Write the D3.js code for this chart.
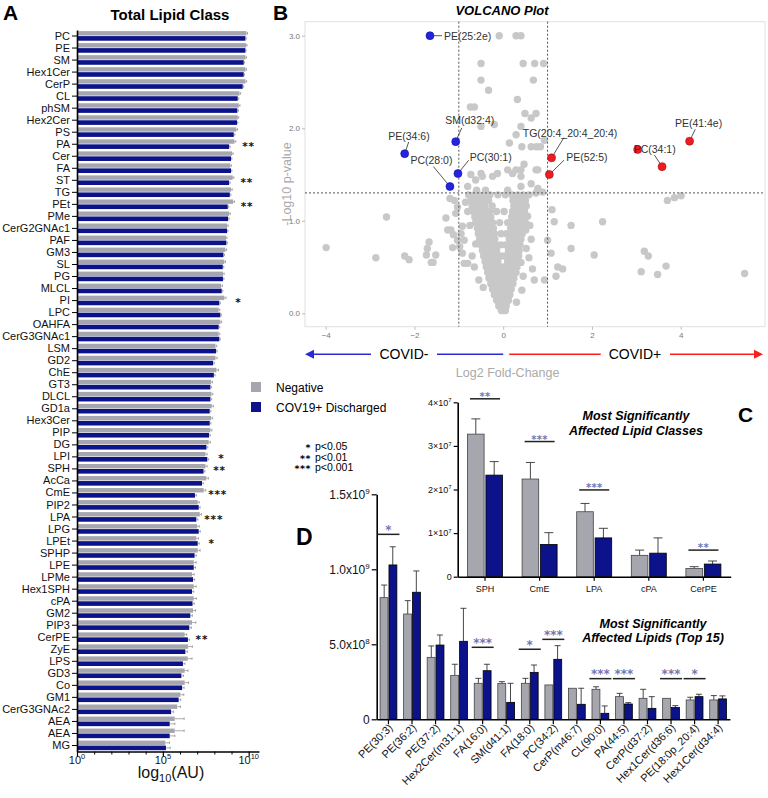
<!DOCTYPE html>
<html><head><meta charset="utf-8">
<script src="https://cdn.jsdelivr.net/npm/d3@7"></script>
<style>body{margin:0;background:#fff} svg{font-family:"Liberation Sans",Arial,Helvetica,sans-serif}</style>
</head><body><svg id="c" width="768" height="798"></svg>
<script>
// ================= DATA =================
// Panel A – total lipid class (log10 AU)
const classes = ["PC","PE","SM","Hex1Cer","CerP","CL","phSM","Hex2Cer","PS","PA","Cer","FA","ST","TG","PEt","PMe","CerG2GNAc1","PAF","GM3","SL","PG","MLCL","PI","LPC","OAHFA","CerG3GNAc1","LSM","GD2","ChE","GT3","DLCL","GD1a","Hex3Cer","PIP","DG","LPI","SPH","AcCa","CmE","PIP2","LPA","LPG","LPEt","SPHP","LPE","LPMe","Hex1SPH","cPA","GM2","PIP3","CerPE","ZyE","LPS","GD3","Co","GM1","CerG3GNAc2","AEA","AEA","MG"];
const logNeg = [9.87,9.85,9.81,9.81,9.81,9.46,9.42,9.36,9.28,9.17,9.03,8.93,9.07,8.97,9.09,8.86,8.74,8.68,8.64,8.58,8.50,8.39,8.58,8.25,8.35,8.25,8.06,8.06,8.12,7.81,7.83,7.85,7.81,7.77,7.67,7.48,7.48,7.53,7.38,7.03,7.15,7.00,6.95,7.03,6.80,6.70,6.80,6.80,6.76,6.70,6.27,6.47,6.45,6.27,6.27,6.02,5.83,5.69,5.69,5.14];
const logPos = [9.81,9.81,9.71,9.71,9.65,9.36,9.34,9.32,9.13,8.86,8.97,8.97,8.86,8.90,8.78,8.80,8.74,8.70,8.53,8.49,8.50,8.43,8.29,8.35,8.25,8.29,8.10,7.93,7.97,7.77,7.77,7.73,7.73,7.69,7.54,7.59,7.37,7.28,6.87,7.09,6.95,7.09,7.03,6.85,6.80,6.76,6.70,6.73,6.60,6.54,6.46,6.31,6.17,6.08,6.12,5.92,5.48,5.40,5.40,5.18];
const errNeg = [0.06,0.05,0.06,0.06,0.07,0.07,0.07,0.06,0.07,0.08,0.06,0.06,0.07,0.07,0.08,0.07,0.06,0.06,0.07,0.07,0.07,0.08,0.10,0.07,0.07,0.07,0.08,0.10,0.12,0.08,0.08,0.09,0.09,0.09,0.10,0.10,0.10,0.12,0.12,0.09,0.10,0.12,0.12,0.14,0.14,0.12,0.14,0.15,0.15,0.22,0.12,0.25,0.25,0.20,0.22,0.20,0.20,0.55,0.55,0.25];
const errPos = [0.05,0.04,0.05,0.05,0.05,0.06,0.06,0.05,0.06,0.06,0.05,0.05,0.06,0.06,0.06,0.06,0.05,0.06,0.06,0.06,0.06,0.06,0.06,0.06,0.06,0.06,0.06,0.07,0.07,0.06,0.07,0.07,0.07,0.07,0.08,0.08,0.08,0.08,0.08,0.08,0.09,0.09,0.09,0.10,0.10,0.09,0.10,0.10,0.12,0.12,0.10,0.12,0.12,0.12,0.12,0.12,0.15,0.30,0.30,0.25];
const sigAClass = ["PA","ST","PEt","PI","LPI","SPH","CmE","LPA","LPEt","CerPE"];
const sigAMark  = ["**","**","**","*","*","**","***","***","*","**"];
const tickA = [1, 1e5, 1e10];
const tickAExp = ["0","5","10"];

// Panel B – volcano (log2 FC, -log10 p)
const grayPts = [
[-3.99,0.71],[-2.87,0.60],[-2.63,1.04],[-2.22,0.62],[-2.12,0.58],[-1.73,0.63],[-1.67,0.77],[-1.62,0.55],[-1.52,0.63],[-1.71,0.70],[-1.58,0.55],
[-1.29,1.03],[-1.25,0.90],[-1.20,1.24],[-1.18,0.90],[-1.12,0.85],[-1.14,0.71],[-1.10,1.22],[-1.07,1.08],[-1.03,1.15],[-1.03,0.79],[-0.98,0.72],[-0.95,0.86],[-0.92,0.94],[-0.92,0.65],[-0.88,0.79],[-0.88,0.54],[-0.80,0.54],
[-0.65,0.50],[-0.55,0.36],[-0.70,0.62],[-0.62,0.75],[-0.75,0.95],[-0.80,1.10],[-0.85,1.20],[-0.45,0.28],
[-0.09,3.0],[0.29,3.0],[0.40,3.0],[-0.50,2.70],[0.45,2.70],[0.71,2.70],[0.91,2.70],[-0.50,2.52],[0.68,2.52],[-0.33,2.41],[-0.74,2.23],[-0.65,2.23],[0.32,2.31],[-0.50,2.02],[-0.20,2.04],[0.40,2.02],[0.49,2.16],[0.74,2.16],[0.63,2.11],
[0.14,1.84],[0.29,1.93],[0.42,1.80],[0.63,1.80],[0.75,1.80],[0.84,1.80],[0.93,1.87],
[-0.73,1.50],[-0.62,1.44],[-0.50,1.51],[-0.47,1.48],[-0.80,1.37],[-0.24,1.48],[-0.13,1.51],[0.10,1.55],[0.21,1.51],[0.47,1.61],[0.40,1.55],[0.78,1.55],[0.29,1.55],[0.74,1.55],[0.40,1.48],
[-0.60,1.33],[-0.40,1.33],[0.10,1.33],[0.40,1.37],[0.63,1.40],[0.78,1.35],[0.74,1.30],[0.89,1.31],
[1.10,1.12],[1.15,0.99],[1.53,0.95],[2.24,0.99],[1.53,0.70],[2.05,0.63],[1.34,0.48],[1.19,0.40],[1.08,0.65],[0.70,0.36],[0.93,0.36],[0.66,0.48],[1.00,0.79],[1.23,0.50],
[0.51,0.90],[0.63,0.80],[0.40,1.15],[0.55,1.05],[0.60,0.95],[0.52,0.70],[0.58,0.60],[0.30,0.12],[0.42,0.25],[0.45,0.40],[0.40,0.55],
[3.18,0.67],[3.27,0.62],[3.11,0.45],[3.48,0.42],[3.67,0.51],[5.44,0.43],[3.70,1.22],[3.86,1.25],[4.01,1.27],
[-0.78,1.28],[-0.66,1.28],[-0.55,1.28],[-0.44,1.28],[-0.30,1.28],[-0.12,1.28],[0.05,1.28],[0.20,1.28],[0.33,1.28],[0.45,1.28],[0.58,1.28],
[-0.72,1.22],[-0.62,1.22],[-0.52,1.22],[-0.42,1.22],[-0.33,1.22],[0.22,1.22],[0.31,1.22],[0.40,1.22],[0.50,1.22],
[-0.70,1.16],[-0.60,1.16],[-0.51,1.16],[-0.41,1.16],[-0.25,1.16],[0.24,1.16],[0.33,1.16],[0.42,1.16],[0.52,1.16],
[-0.67,1.10],[-0.58,1.10],[-0.49,1.10],[-0.40,1.10],[-0.31,1.10],[-0.15,1.10],[0.02,1.10],[0.21,1.10],[0.30,1.10],[0.39,1.10],[0.48,1.10],
[-0.64,1.04],[-0.55,1.04],[-0.46,1.04],[-0.37,1.04],[-0.28,1.04],[0.19,1.04],[0.28,1.04],[0.37,1.04],[0.46,1.04],
[-0.62,0.98],[-0.53,0.98],[-0.44,0.98],[-0.35,0.98],[-0.24,0.98],[-0.08,0.98],[0.10,0.98],[0.20,0.98],[0.29,0.98],[0.38,0.98],[0.50,0.98],
[-0.58,0.92],[-0.50,0.92],[-0.42,0.92],[-0.33,0.92],[-0.22,0.92],[0.17,0.92],[0.26,0.92],[0.35,0.92],[0.44,0.92],
[-0.56,0.86],[-0.48,0.86],[-0.40,0.86],[-0.31,0.86],[-0.20,0.86],[-0.05,0.86],[0.07,0.86],[0.16,0.86],[0.25,0.86],[0.34,0.86],[0.43,0.86],
[-0.53,0.80],[-0.45,0.80],[-0.37,0.80],[-0.29,0.80],[-0.19,0.80],[0.14,0.80],[0.23,0.80],[0.32,0.80],[0.40,0.80],
[-0.50,0.74],[-0.42,0.74],[-0.35,0.74],[-0.27,0.74],[-0.17,0.74],[-0.06,0.74],[0.05,0.74],[0.13,0.74],[0.22,0.74],[0.30,0.74],[0.38,0.74],
[-0.47,0.68],[-0.40,0.68],[-0.32,0.68],[-0.24,0.68],[-0.15,0.68],[0.12,0.68],[0.20,0.68],[0.28,0.68],[0.36,0.68],
[-0.44,0.62],[-0.37,0.62],[-0.30,0.62],[-0.22,0.62],[-0.14,0.62],[-0.05,0.62],[0.04,0.62],[0.11,0.62],[0.19,0.62],[0.27,0.62],[0.35,0.62],
[-0.41,0.56],[-0.34,0.56],[-0.27,0.56],[-0.20,0.56],[-0.12,0.56],[0.10,0.56],[0.18,0.56],[0.25,0.56],[0.32,0.56],
[-0.38,0.50],[-0.31,0.50],[-0.24,0.50],[-0.17,0.50],[-0.10,0.50],[-0.03,0.50],[0.04,0.50],[0.10,0.50],[0.17,0.50],[0.24,0.50],[0.31,0.50],
[-0.35,0.44],[-0.28,0.44],[-0.22,0.44],[-0.15,0.44],[-0.08,0.44],[0.00,0.44],[0.08,0.44],[0.15,0.44],[0.22,0.44],[0.29,0.44],
[-0.32,0.38],[-0.25,0.38],[-0.19,0.38],[-0.12,0.38],[-0.05,0.38],[0.03,0.38],[0.10,0.38],[0.17,0.38],[0.24,0.38],
[-0.28,0.32],[-0.22,0.32],[-0.16,0.32],[-0.10,0.32],[-0.03,0.32],[0.04,0.32],[0.10,0.32],[0.16,0.32],[0.22,0.32],
[-0.24,0.26],[-0.18,0.26],[-0.12,0.26],[-0.06,0.26],[0.00,0.26],[0.06,0.26],[0.12,0.26],[0.18,0.26],
[-0.20,0.20],[-0.14,0.20],[-0.08,0.20],[-0.02,0.20],[0.04,0.20],[0.10,0.20],[0.15,0.20],
[-0.15,0.14],[-0.10,0.14],[-0.04,0.14],[0.02,0.14],[0.07,0.14],[0.12,0.14],
[-0.10,0.08],[-0.04,0.08],[0.02,0.08],[0.07,0.08],
[-0.04,0.03],[0.01,0.03],[0.05,0.03]
];
const sigNames = ["PE(25:2e)","SM(d32:4)","PE(34:6)","PC(28:0)","PC(30:1)","TG(20:4_20:4_20:4)","PE(52:5)","PC(34:1)","PE(41:4e)",""];
const sigFC    = [-1.65,-1.07,-2.22,-1.20,-1.02,1.09,1.04,3.58,4.20,3.03];
const sigP     = [3.00,1.855,1.725,1.37,1.51,1.68,1.50,1.585,1.86,1.77];
const sigDir   = ["down","down","down","down","down","up","up","up","up","up"];
const xTicksB = [-4,-2,0,2,4];
const yTicksB = [0,1,2,3];

// Panel C – most significantly affected lipid classes
const classesC = ["SPH","CmE","LPA","cPA","CerPE"];
const negC   = [3.27e7,2.24e7,1.49e7,0.49e7,0.19e7];
const negCsd = [0.35e7,0.38e7,0.19e7,0.12e7,0.04e7];
const posC   = [2.33e7,0.74e7,0.89e7,0.54e7,0.29e7];
const posCsd = [0.31e7,0.27e7,0.22e7,0.35e7,0.07e7];
const sigCClass = ["SPH","CmE","LPA","CerPE"];
const sigCMark  = ["**","***","***","**"];
const sigCLevel = [4.08e7,3.10e7,1.99e7,0.61e7];
const ticksC = [0,1e7,2e7,3e7,4e7];

// Panel D – most significantly affected lipids (top 15)
const lipidsD = ["PE(30:3)","PE(36:2)","PE(37:2)","Hex2Cer(m31:1)","FA(16:0)","SM(d41:1)","FA(18:0)","PC(34:2)","CerP(m46:7)","CL(90:0)","PA(44:5)","CerP(d37:2)","Hex1Cer(d36:6)","PE(18:0p_20:4)","Hex1Cer(d34:4)"];
const negD   = [8.11e8,7.02e8,4.13e8,2.93e8,2.40e8,2.38e8,2.40e8,2.29e8,2.07e8,2.00e8,1.51e8,1.40e8,1.40e8,1.29e8,1.29e8];
const negDsd = [0.84e8,0.89e8,0.76e8,0.74e8,0.33e8,0.13e8,0.33e8,0,0,0.17e8,0.22e8,0.60e8,0,0.18e8,0.29e8];
const posD   = [10.29e8,8.47e8,4.95e8,5.20e8,3.24e8,1.13e8,3.13e8,4.00e8,1.00e8,0.40e8,1.02e8,0.73e8,0.78e8,1.51e8,1.36e8];
const posDsd = [1.21e8,1.42e8,0.67e8,2.20e8,0.43e8,1.27e8,0.49e8,0.91e8,1.07e8,0.49e8,0.09e8,0.78e8,0.13e8,0.16e8,0.20e8];
const sigDLipid = ["PE(30:3)","FA(16:0)","FA(18:0)","PC(34:2)","CL(90:0)","PA(44:5)","Hex1Cer(d36:6)","PE(18:0p_20:4)"];
const sigDMark  = ["*","***","*","***","***","***","***","*"];
const sigDLevel = [12.33e8,4.80e8,4.67e8,5.33e8,2.71e8,2.71e8,2.71e8,2.71e8];
const ticksD = [0,5e8,1e9,1.5e9];
const ticksDLabel = [["0",""],["5.0x10","8"],["1.0x10","9"],["1.5x10","9"]];

// ================= DRAWING =================
const svg = d3.select("#c");
const GRAY = "#a6a6ae", BLUE = "#0b128a", STAR = "#7474b0";
const STARFONT = "'DejaVu Sans', Verdana, sans-serif";

function sup(sel, base, exp, supSize, dy){
  sel.text(null);
  sel.append("tspan").text(base);
  if(exp){ sel.append("tspan").attr("font-size",supSize).attr("dy",dy).text(exp); }
}

// ---------- Panel A ----------
const xA = d3.scaleLog().domain([1, Math.pow(10,10.6)]).range([77,259]);
const yA = d3.scaleBand().domain(d3.range(classes.length)).range([30,751.5]);
const gA = svg.append("g");
const rowsA = classes.map((c,i)=>({i,c,neg:logNeg[i],pos:logPos[i],en:errNeg[i],ep:errPos[i]}));
const cy = d=>yA(d.i)+yA.bandwidth()/2;
gA.selectAll("rect.neg").data(rowsA).join("rect").attr("class","neg")
  .attr("x",xA(1)).attr("y",d=>cy(d)-4.9).attr("height",4.4)
  .attr("width",d=>xA(Math.pow(10,d.neg))-xA(1)).attr("fill",GRAY);
gA.selectAll("rect.pos").data(rowsA).join("rect").attr("class","pos")
  .attr("x",xA(1)).attr("y",d=>cy(d)+0.1).attr("height",4.6)
  .attr("width",d=>xA(Math.pow(10,d.pos))-xA(1)).attr("fill",BLUE);
// error bars
[["neg","en",-2.7],["pos","ep",2.4]].forEach(([k,e,off])=>{
  gA.selectAll("path.e"+k).data(rowsA).join("path").attr("class","e"+k)
    .attr("d",d=>{const x0=xA(Math.pow(10,d[k])),x1=xA(Math.pow(10,d[k]+d[e])),y=cy(d)+off;
      return `M${x0},${y}H${x1}M${x1},${y-1.3}V${y+1.3}`;})
    .attr("stroke","#888").attr("stroke-width",0.7).attr("fill","none");
});
// axes
const axAy = gA.append("g").attr("transform","translate(77,0)")
  .call(d3.axisLeft(yA).tickFormat(i=>classes[i]).tickSize(5).tickPadding(2).tickSizeOuter(0));
axAy.select(".domain").attr("stroke","#000").attr("stroke-width",1.6);
axAy.selectAll(".tick line").attr("stroke","#000").attr("stroke-width",1);
axAy.selectAll("text").attr("font-size",11).attr("fill","#111").attr("font-family",null);
const axAx = gA.append("g").attr("transform","translate(0,751.5)")
  .call(d3.axisBottom(xA).tickValues(tickA).tickSize(5).tickFormat(()=>"").tickSizeOuter(0));
axAx.select(".domain").attr("stroke","#000").attr("stroke-width",1.6);
axAx.selectAll(".tick line").attr("stroke","#000").attr("stroke-width",1.2);
const minorA = d3.range(1,11).filter(k=>k!==5&&k!==10).map(k=>Math.pow(10,k));
gA.append("g").attr("transform","translate(0,751.5)")
  .call(d3.axisBottom(xA).tickValues(minorA).tickSize(3).tickFormat(()=>"").tickSizeOuter(0))
  .call(g=>{g.select(".domain").remove();g.selectAll("line").attr("stroke","#000");});
tickA.forEach((v,i)=>{
  const t = gA.append("text").attr("x",xA(v)).attr("y",764).attr("text-anchor","middle").attr("font-size",11).attr("fill","#111");
  sup(t,"10",tickAExp[i],7.5,-5);
});
const xl = gA.append("text").attr("x",171).attr("y",778).attr("text-anchor","middle").attr("font-size",16).attr("fill","#111");
xl.append("tspan").text("log");
xl.append("tspan").attr("font-size",11).attr("dy",4).text("10");
xl.append("tspan").attr("dy",-4).text("(AU)");
// stars
sigAClass.forEach((c,k)=>{
  const i = classes.indexOf(c);
  const end = xA(Math.pow(10,Math.max(logNeg[i],logPos[i])));
  gA.append("text").attr("x",end+14).attr("y",cy({i})+5.5).attr("text-anchor","middle")
    .attr("font-family",STARFONT).attr("font-weight","bold").attr("letter-spacing",0.8)
    .attr("font-size",10.5).attr("fill","#111").text(sigAMark[k]);
});
gA.append("text").attr("x",3).attr("y",20).attr("font-size",21).attr("font-weight","bold").text("A");
gA.append("text").attr("x",170).attr("y",20).attr("text-anchor","middle").attr("font-size",15).attr("font-weight","bold").text("Total Lipid Class");

// legend
const leg = svg.append("g");
leg.append("rect").attr("x",251).attr("y",382).attr("width",10).attr("height",10).attr("fill",GRAY);
leg.append("rect").attr("x",251).attr("y",402).attr("width",10).attr("height",10).attr("fill",BLUE);
leg.append("text").attr("x",276).attr("y",392).attr("font-size",12).text("Negative");
leg.append("text").attr("x",276).attr("y",412).attr("font-size",12).text("COV19+ Discharged");
[["*","p<0.05",450],["**","p<0.01",460.5],["***","p<0.001",471]].forEach(([s,t,y])=>{
  leg.append("text").attr("x",311).attr("y",y+1).attr("text-anchor","end").attr("font-size",9.5)
    .attr("font-family",STARFONT).attr("font-weight","bold").attr("letter-spacing",0.5).text(s);
  leg.append("text").attr("x",315).attr("y",y).attr("font-size",10.5).text(t);
});

// ---------- Panel B ----------
const gB = svg.append("g");
const xB = d3.scaleLinear().domain([-4,4]).range([325.7,680.7]);
const yB = d3.scaleLinear().domain([0,3]).range([313.3,35.7]);
const pL=305,pR=765,pT=21.7,pBt=326.7;
gB.append("rect").attr("x",pL).attr("y",pT).attr("width",pR-pL).attr("height",pBt-pT).attr("fill","#fff").attr("stroke","#e0e0e0").attr("stroke-width",1);
const axBy = gB.append("g").attr("transform",`translate(${pL},0)`).call(d3.axisLeft(yB).tickValues(yTicksB).tickSize(3).tickPadding(2));
const axBx = gB.append("g").attr("transform",`translate(0,${pBt})`).call(d3.axisBottom(xB).tickValues(xTicksB).tickSize(3).tickPadding(3));
[axBy,axBx].forEach(a=>{a.select(".domain").remove();a.selectAll("line").attr("stroke","#bbb");a.selectAll("text").attr("font-size",8).attr("fill","#777").attr("font-family",null);});
gB.selectAll("circle.g").data(grayPts).join("circle").attr("class","g")
  .attr("cx",d=>xB(d[0])).attr("cy",d=>yB(d[1])).attr("r",3.7).attr("fill","#c8c8c8");
const dash = gB.append("g").attr("stroke","#555").attr("stroke-width",1).attr("stroke-dasharray","2,2");
[-1,1].forEach(v=>dash.append("line").attr("x1",xB(v)).attr("x2",xB(v)).attr("y1",pT).attr("y2",pBt));
dash.append("line").attr("x1",pL).attr("x2",pR).attr("y1",yB(-Math.log10(0.05))).attr("y2",yB(-Math.log10(0.05)));
// labelled points layout (pixel offsets of labels)
const labelLayout = {
 "PE(25:2e)":{tx:14,ty:0,a:"start",lx:12,ly:0},
 "SM(d32:4)":{tx:14,ty:-21,a:"middle",lx:6,ly:-13.7},
 "PE(34:6)":{tx:4.3,ty:-17,a:"middle",lx:4,ly:-11.7},
 "PC(28:0)":{tx:-18.5,ty:-26,a:"middle",lx:-16.6,ly:-20},
 "PC(30:1)":{tx:32.7,ty:-16.6,a:"middle",lx:10.7,ly:-13.3},
 "TG(20:4_20:4_20:4)":{tx:18.5,ty:-25,a:"middle",lx:12.3,ly:-20.2},
 "PE(52:5)":{tx:37.5,ty:-17.6,a:"middle",lx:14.7,ly:-14.3},
 "PC(34:1)":{tx:-7.4,ty:-17.4,a:"middle",lx:-7.7,ly:-11.7},
 "PE(41:4e)":{tx:9,ty:-17.7,a:"middle",lx:5.7,ly:-12}
};
const sigRows = sigNames.map((n,i)=>({n,x:sigFC[i],y:sigP[i],dir:sigDir[i]}));
sigRows.forEach(d=>{
  const L = labelLayout[d.n]; if(!L) return;
  const px=xB(d.x),py=yB(d.y);
  gB.append("line").attr("x1",px).attr("y1",py).attr("x2",px+L.lx).attr("y2",py+L.ly).attr("stroke","#444").attr("stroke-width",0.9);
});
gB.selectAll("circle.s").data(sigRows).join("circle").attr("class","s")
  .attr("cx",d=>xB(d.x)).attr("cy",d=>yB(d.y)).attr("r",4)
  .attr("fill",d=>d.dir==="down"?"#2323e0":"#ee1c22").attr("stroke",d=>d.dir==="down"?"#10109a":"#a01010").attr("stroke-width",0.6);
sigRows.forEach(d=>{
  const L = labelLayout[d.n]; if(!L) return;
  gB.append("text").attr("x",xB(d.x)+L.tx).attr("y",yB(d.y)+L.ty+3.8).attr("text-anchor",L.a)
    .attr("font-size",10.5).attr("fill","#333").text(d.n);
});
gB.append("text").attr("x",273).attr("y",20).attr("font-size",21).attr("font-weight","bold").text("B");
gB.append("text").attr("x",502).attr("y",14.5).attr("text-anchor","middle").attr("font-size",13).attr("font-weight","bold").attr("font-style","italic").text("VOLCANO Plot");
gB.append("text").attr("transform","translate(291,184) rotate(-90)").attr("text-anchor","middle").attr("font-size",12.5).attr("fill","#aaa").text("-Log10 p-value");
gB.append("text").attr("x",xB(0.1)).attr("y",377).attr("text-anchor","middle").attr("font-size",12.5).attr("fill","#aaa").text("Log2 Fold-Change");
// direction arrows
const ay = 354.3, BL="#2a2ad2", RD="#ff1c1c";
gB.append("line").attr("x1",312).attr("x2",371).attr("y1",ay).attr("y2",ay).attr("stroke",BL).attr("stroke-width",1.6);
gB.append("line").attr("x1",437).attr("x2",xB(0)).attr("y1",ay).attr("y2",ay).attr("stroke",BL).attr("stroke-width",1.6);
gB.append("path").attr("d",`M305,${ay}L314,${ay-4.5}L314,${ay+4.5}Z`).attr("fill",BL);
gB.append("text").attr("x",404).attr("y",ay+5).attr("text-anchor","middle").attr("font-size",14).text("COVID-");
gB.append("line").attr("x1",xB(0)+6).attr("x2",600.7).attr("y1",ay).attr("y2",ay).attr("stroke",RD).attr("stroke-width",1.6);
gB.append("line").attr("x1",670).attr("x2",755).attr("y1",ay).attr("y2",ay).attr("stroke",RD).attr("stroke-width",1.6);
gB.append("path").attr("d",`M763,${ay}L754,${ay-4.5}L754,${ay+4.5}Z`).attr("fill",RD);
gB.append("text").attr("x",635).attr("y",ay+5).attr("text-anchor","middle").attr("font-size",14).text("COVID+");

// ---------- Panel C ----------
const gC = svg.append("g");
const xC = d3.scaleBand().domain(classesC).range([457.7,730.7]);
const yC = d3.scaleLinear().domain([0,4e7]).range([576.7,402.3]);
const rowsC = classesC.map((c,i)=>({c,neg:negC[i],nsd:negCsd[i],pos:posC[i],psd:posCsd[i]}));
const ccx = c=>xC(c)+xC.bandwidth()/2;
function errBar(g, x, top, sd, yS, half){
  if(!sd) return;
  g.append("path").attr("d",`M${x},${yS(top)}V${yS(top+sd)}M${x-half},${yS(top+sd)}H${x+half}`)
   .attr("stroke","#333").attr("stroke-width",0.9).attr("fill","none");
}
rowsC.forEach(d=>{
  const c = ccx(d.c);
  errBar(gC, c-9.2, d.neg, d.nsd, yC, 4.5);
  errBar(gC, c+9.2, d.pos, d.psd, yC, 4.5);
});
gC.selectAll("rect.n").data(rowsC).join("rect").attr("class","n")
  .attr("x",d=>ccx(d.c)-17.5).attr("width",16.6).attr("y",d=>yC(d.neg)).attr("height",d=>yC(0)-yC(d.neg))
  .attr("fill",GRAY).attr("stroke","#444").attr("stroke-width",0.8);
gC.selectAll("rect.p").data(rowsC).join("rect").attr("class","p")
  .attr("x",d=>ccx(d.c)+0.9).attr("width",16.6).attr("y",d=>yC(d.pos)).attr("height",d=>yC(0)-yC(d.pos))
  .attr("fill",BLUE).attr("stroke","#000").attr("stroke-width",0.8);
const axCy = gC.append("g").attr("transform","translate(457.7,0)").call(d3.axisLeft(yC).tickValues(ticksC).tickSize(4).tickPadding(2).tickSizeOuter(0));
axCy.selectAll("text").attr("font-size",9).attr("fill","#111").attr("font-family",null)
  .each(function(v){ const s=d3.select(this); if(v===0){s.text("0");return;} sup(s,(v/1e7)+"×10","7",6,-3.5); });
const axCx = gC.append("g").attr("transform","translate(0,576.7)").call(d3.axisBottom(xC).tickSize(4).tickPadding(5).tickSizeOuter(0));
axCx.selectAll("text").attr("font-size",9).attr("fill","#111").attr("font-family",null);
[axCy,axCx].forEach(a=>{a.select(".domain").attr("stroke","#000").attr("stroke-width",1.6);a.selectAll(".tick line").attr("stroke","#000").attr("stroke-width",1.2);});
sigCClass.forEach((c,k)=>{
  const x=ccx(c), y=yC(sigCLevel[k]);
  gC.append("line").attr("x1",x-15).attr("x2",x+15).attr("y1",y).attr("y2",y).attr("stroke","#222").attr("stroke-width",1.5);
  gC.append("text").attr("x",x).attr("y",y+1).attr("text-anchor","middle").attr("font-family",STARFONT).attr("font-weight","bold")
    .attr("font-size",10).attr("letter-spacing",0.3).attr("fill",STAR).text(sigCMark[k]);
});
gC.append("text").attr("x",636).attr("y",420).attr("text-anchor","middle").attr("font-size",12.5).attr("font-weight","bold").attr("font-style","italic").text("Most Significantly");
gC.append("text").attr("x",636).attr("y",434.5).attr("text-anchor","middle").attr("font-size",12.5).attr("font-weight","bold").attr("font-style","italic").text("Affected Lipid Classes");
gC.append("text").attr("x",738).attr("y",422).attr("font-size",21).attr("font-weight","bold").text("C");

// ---------- Panel D ----------
const gD = svg.append("g");
const xD = d3.scaleBand().domain(lipidsD).range([376.7,729.9]);
const yD = d3.scaleLinear().domain([0,1.5e9]).range([719.3,494.3]);
const rowsD = lipidsD.map((c,i)=>({c,neg:negD[i],nsd:negDsd[i],pos:posD[i],psd:posDsd[i]}));
const dcx = c=>xD(c)+xD.bandwidth()/2;
rowsD.forEach(d=>{
  const c = dcx(d.c);
  errBar(gD, c-4.3, d.neg, d.nsd, yD, 3);
  errBar(gD, c+4.3, d.pos, d.psd, yD, 3);
});
gD.selectAll("rect.n").data(rowsD).join("rect").attr("class","n")
  .attr("x",d=>dcx(d.c)-8.4).attr("width",7.9).attr("y",d=>yD(d.neg)).attr("height",d=>yD(0)-yD(d.neg))
  .attr("fill",GRAY).attr("stroke","#444").attr("stroke-width",0.8);
gD.selectAll("rect.p").data(rowsD).join("rect").attr("class","p")
  .attr("x",d=>dcx(d.c)+0.5).attr("width",7.9).attr("y",d=>yD(d.pos)).attr("height",d=>yD(0)-yD(d.pos))
  .attr("fill",BLUE).attr("stroke","#000").attr("stroke-width",0.8);
const axDy = gD.append("g").attr("transform","translate(376.7,0)").call(d3.axisLeft(yD).tickValues(ticksD).tickSize(5).tickPadding(2).tickSizeOuter(0));
axDy.selectAll("text").attr("font-size",12).attr("fill","#111").attr("font-family",null)
  .each(function(v,i){ sup(d3.select(this),ticksDLabel[i][0],ticksDLabel[i][1],8,-5); });
const axDx = gD.append("g").attr("transform","translate(0,719.3)").call(d3.axisBottom(xD).tickSize(5).tickSizeOuter(0));
axDx.selectAll("text").attr("font-size",11).attr("fill","#111").attr("font-family",null)
  .attr("text-anchor","end").attr("y",0).attr("dy",0).attr("transform","translate(5,9) rotate(-45)");
[axDy,axDx].forEach(a=>{a.select(".domain").attr("stroke","#000").attr("stroke-width",1.6);a.selectAll(".tick line").attr("stroke","#000").attr("stroke-width",1.2);});
sigDLipid.forEach((c,k)=>{
  const x=dcx(c), y=yD(sigDLevel[k]);
  gD.append("line").attr("x1",x-11).attr("x2",x+11).attr("y1",y).attr("y2",y).attr("stroke","#222").attr("stroke-width",1.5);
  gD.append("text").attr("x",x).attr("y",y-0.5).attr("text-anchor","middle").attr("font-family",STARFONT).attr("font-weight","bold")
    .attr("font-size",12).attr("fill",STAR).text(sigDMark[k]);
});
gD.append("text").attr("x",653).attr("y",628).attr("text-anchor","middle").attr("font-size",12.5).attr("font-weight","bold").attr("font-style","italic").text("Most Significantly");
gD.append("text").attr("x",653).attr("y",642).attr("text-anchor","middle").attr("font-size",12.5).attr("font-weight","bold").attr("font-style","italic").text("Affected Lipids (Top 15)");
gD.append("text").attr("x",296).attr("y",545).attr("font-size",23).attr("font-weight","bold").text("D");
</script></body></html>
